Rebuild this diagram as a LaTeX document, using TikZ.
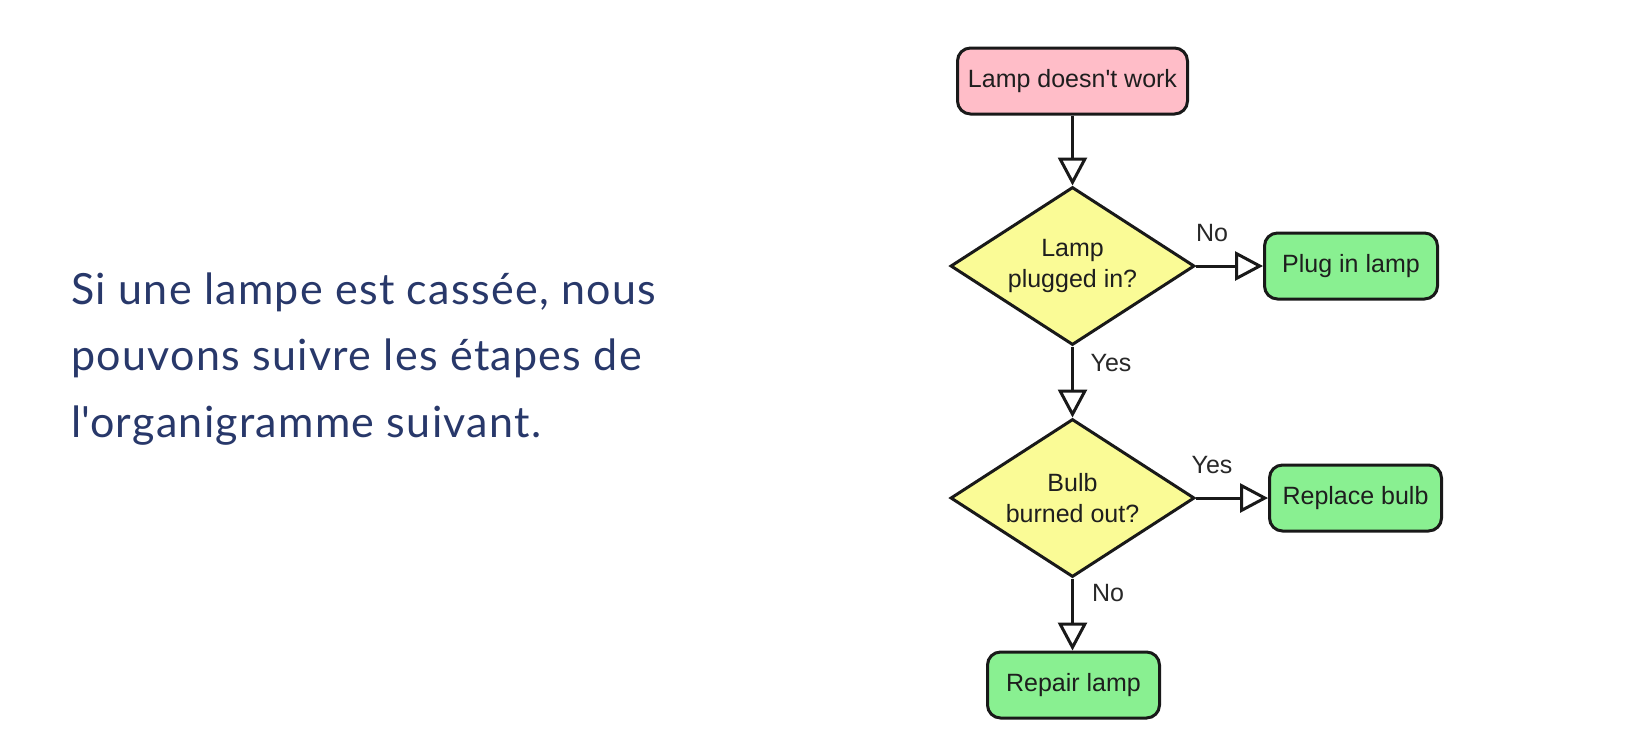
\documentclass[tikz,border=0pt]{standalone}
\usepackage{fontspec}
\setmainfont{Liberation Sans}
\newfontfamily\bodyfont[LetterSpace=3]{Lato}
\usetikzlibrary{shapes.geometric,arrows.meta}
\definecolor{pinkfill}{RGB}{255,189,200}
\definecolor{yelfill}{RGB}{250,251,150}
\definecolor{grnfill}{RGB}{137,240,145}
\definecolor{linec}{RGB}{25,25,25}
\definecolor{txtc}{RGB}{30,30,30}
\definecolor{labc}{RGB}{40,40,40}
\definecolor{navy}{RGB}{40,56,106}
\begin{document}
\begin{tikzpicture}[x=0.5pt,y=-0.5pt,
  diagfont/.style={font=\fontsize{12.5}{15.5}\selectfont},
  box/.style={draw=linec, line width=1.5pt, rounded corners=6.5pt, inner sep=0pt,
    minimum height=33pt, diagfont, text=txtc},
  dec/.style={diamond, aspect=1.54, draw=linec, fill=yelfill, line width=1.5pt,
    inner sep=0pt, minimum width=122pt, minimum height=79pt, align=center,
    diagfont, text=txtc},
  flow/.style={line width=1.5pt, draw=linec,
    -{Triangle[length=14pt,width=14.5pt,fill=white]}},
  lab/.style={diagfont, text=labc, inner sep=0pt},
  bodytext/.style={font=\bodyfont\fontsize{21.5}{26}\selectfont, text=navy,
    anchor=base west, inner sep=0pt}]
\useasboundingbox (0,0) rectangle (1631,751);
\fill[white] (0,0) rectangle (1631,751);

% left text
\node[bodytext] (t1) at (71,304) {Si une lampe est cassée, nous};
\node[bodytext] (t2) at (71,370) {pouvons suivre les étapes de};
\node[bodytext] (t3) at (71,437) {l\textquotesingle organigramme suivant.};

% flowchart nodes
\node[box, fill=pinkfill, minimum width=115pt] (start) at (1072.5,81) {Lamp doesn\textquotesingle t work};
\node[dec] (d1) at (1072.5,266) {Lamp\\plugged in?};
\node[box, fill=grnfill, minimum width=86.5pt] (plug) at (1351,266) {Plug in lamp};
\node[dec] (d2) at (1072.5,498) {Bulb\\burned out?};
\node[box, fill=grnfill, minimum width=86pt] (repl) at (1355.5,498) {Replace bulb};
\node[box, fill=grnfill, minimum width=86pt] (repair) at (1073.5,685) {Repair lamp};

% connectors
\draw[flow] (start.south) -- (d1.north);
\draw[flow] (d1.east) -- (plug.west);
\draw[flow] (d1.south) -- (d2.north);
\draw[flow] (d2.east) -- (repl.west);
\draw[flow] (d2.south) -- (d2.south |- repair.north);

% labels
\node[lab] (lno1) at (1212,233) {No};
\node[lab] (lyes1) at (1111,363) {Yes};
\node[lab] (lyes2) at (1212,465) {Yes};
\node[lab] (lno2) at (1108,593) {No};
\end{tikzpicture}
\end{document}
